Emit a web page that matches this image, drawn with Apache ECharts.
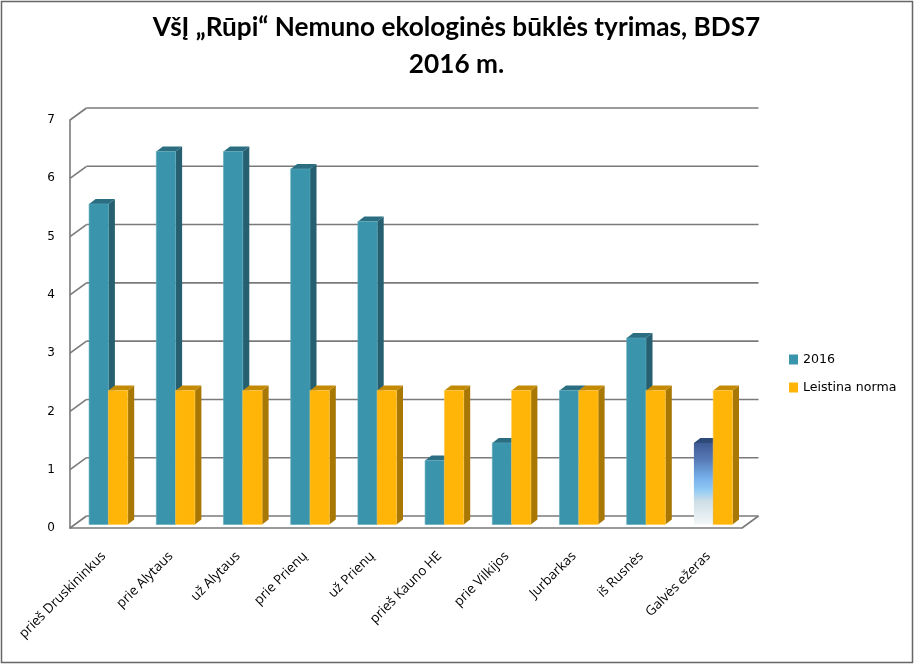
<!DOCTYPE html>
<html><head><meta charset="utf-8">
<style>html,body{margin:0;padding:0;background:#fff}#c{width:914px;height:664px}</style>
<script src="https://cdn.jsdelivr.net/npm/echarts@6/dist/echarts.min.js"></script>
</head><body><div id="c"></div>
<script>
const titleText = "VšĮ „Rūpi“ Nemuno ekologinės būklės tyrimas, BDS7\n2016 m.";
const categories = ["prieš Druskininkus","prie Alytaus","už Alytaus","prie Prienų","už Prienų","prieš Kauno HE","prie Vilkijos","Jurbarkas","iš Rusnės","Galvės ežeras"];
const values2016 = [5.5,6.4,6.4,6.1,5.2,1.1,1.4,2.3,3.2,1.4];
const valuesNorm = [2.3,2.3,2.3,2.3,2.3,2.3,2.3,2.3,2.3,2.3];
const yTicks = [0,1,2,3,4,5,6,7];
const seriesNames = ["2016","Leistina norma"];

const WALL_DX = 16.5, WALL_DY = 12;
const BAR_W = 19.3, BAR_DX = 6.5, BAR_DY = 5, BAR_SHIFT_X = 4.8, BAR_SHIFT_Y = -3.5;
const LINE = '#7a7a7a';
const BLUE = {front:'#3A94AB', side:'#255F70', top:'#2B6E82', edge:'#5DA8BB'};
const YELL = {front:'#FFB508', side:'#A97703', top:'#C38A05', edge:'#FFC94F'};
const FADE_INDEX = 9;
const fade = new echarts.graphic.LinearGradient(0,0,0,1,[
  {offset:0,color:'#3F5A94'},{offset:0.2,color:'#5679B4'},{offset:0.42,color:'#74AEE8'},
  {offset:0.58,color:'#92CBF5'},{offset:0.72,color:'#CFDFE6'},{offset:1,color:'#F3F7F8'}]);

function wallItem(params, api){
  const v = api.value(0), cs = params.coordSys;
  const y = api.coord([0,v])[1];
  const x0 = cs.x, x1 = cs.x + cs.width;
  const st = {stroke:LINE, lineWidth:1.6, fill:null};
  const kids = [
    {type:'line',shape:{x1:x0+WALL_DX,y1:y-WALL_DY,x2:x1+WALL_DX,y2:y-WALL_DY},style:st},
    {type:'line',shape:{x1:x0,y1:y,x2:x0+WALL_DX,y2:y-WALL_DY},style:st}
  ];
  if (v===0) kids.push({type:'line',shape:{x1:x1,y1:y,x2:x1+WALL_DX,y2:y-WALL_DY},style:st});
  return {type:'group',children:kids};
}
function barItem(side, pal){
  return function(params, api){
    const c = api.coord([api.value(0), api.value(1)]);
    const b = api.coord([api.value(0), 0]);
    const xc = c[0] + BAR_SHIFT_X;
    const xl = side<0 ? xc-BAR_W : xc, xr = xl+BAR_W;
    const yt = c[1]+BAR_SHIFT_Y, yb = b[1]+BAR_SHIFT_Y;
    const isFade = side<0 && params.dataIndex===FADE_INDEX;
    const front = isFade ? fade : pal.front;
    const top = isFade ? '#2E4A78' : pal.top;
    const sideC = isFade ? '#2E4A78' : pal.side;
    return {type:'group',children:[
      {type:'polygon',shape:{points:[[xr,yt],[xr+BAR_DX,yt-BAR_DY],[xr+BAR_DX,yb-BAR_DY],[xr,yb]]},style:{fill:sideC}},
      {type:'polygon',shape:{points:[[xl,yt],[xl+BAR_DX,yt-BAR_DY],[xr+BAR_DX,yt-BAR_DY],[xr,yt]]},style:{fill:top}},
      {type:'rect',shape:{x:xl,y:yt,width:BAR_W,height:yb-yt},style:{fill:front,stroke:isFade?null:pal.edge,lineWidth:0.6}}
    ]};
  };
}

const chart = echarts.init(document.getElementById('c'),null,{renderer:'canvas'});
chart.setOption({
  animation:false,
  backgroundColor:'#fff',
  title:{text:titleText,left:451.5,textAlign:'center',top:4,
    textStyle:{fontFamily:'Lato',fontWeight:'bold',fontSize:26.2,lineHeight:37,color:'#000'}},
  legend:{orient:'vertical',left:784,top:348,itemWidth:9,itemHeight:10,itemGap:15,icon:'rect',
    data:seriesNames,textStyle:{fontFamily:'DejaVu Sans',fontSize:12.6,color:'#000'}},
  grid:{left:70,top:120,width:672,height:408,containLabel:false},
  xAxis:{type:'category',data:categories,
    axisLine:{show:true,lineStyle:{color:LINE,width:1.6}},axisTick:{show:false},
    axisLabel:{rotate:45,interval:0,margin:26,fontFamily:'Open Sans',fontSize:13.4,color:'#000'}},
  yAxis:{type:'value',min:0,max:7,interval:1,
    axisLine:{show:true,lineStyle:{color:LINE,width:1.6}},axisTick:{show:false},splitLine:{show:false},
    axisLabel:{margin:15,fontFamily:'DejaVu Sans',fontSize:12,color:'#000'}},
  series:[
    {type:'custom',name:'walls',silent:true,clip:false,z:1,renderItem:wallItem,data:yTicks.map(v=>[v]),encode:{y:0}},
    {type:'custom',name:seriesNames[0],clip:false,z:2,renderItem:barItem(-1,BLUE),itemStyle:{color:BLUE.front},
      data:values2016.map((v,i)=>[i,v]),encode:{x:0,y:1}},
    {type:'custom',name:seriesNames[1],clip:false,z:3,renderItem:barItem(1,YELL),itemStyle:{color:YELL.front},
      data:valuesNorm.map((v,i)=>[i,v]),encode:{x:0,y:1}}
  ],
  graphic:[{type:'rect',silent:true,z:100,shape:{x:1.5,y:1.5,width:911,height:661},style:{fill:null,stroke:'#666',lineWidth:1.5}}]
});
</script></body></html>
